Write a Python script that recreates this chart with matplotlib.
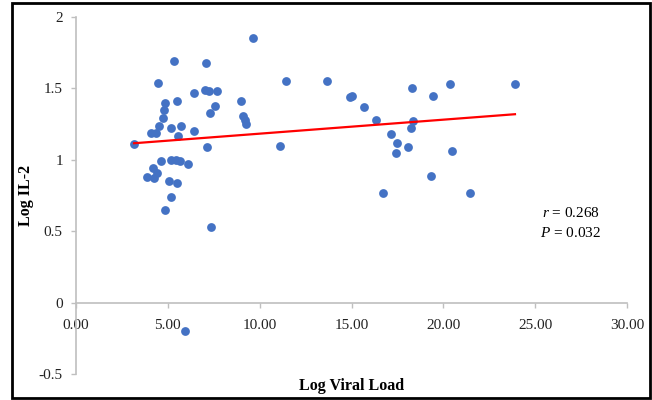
import numpy as np
import matplotlib
matplotlib.use("Agg")
import matplotlib.pyplot as plt
from matplotlib.patches import Rectangle

# Log viral load vs Log IL-2
viral_load = np.array([
    3.16, 9.64, 5.33, 7.07, 4.49, 11.44, 13.64, 6.45, 7.02, 7.26,
    7.66, 9.00, 4.82, 5.49, 4.78, 7.58, 7.31, 4.75, 9.07, 9.18,
    9.27, 4.53, 5.69, 5.18, 4.11, 4.38, 6.40, 5.56, 7.11, 11.13,
    4.64, 5.15, 5.46, 5.67, 6.11, 3.87, 4.18, 4.40, 4.26, 5.09,
    5.51, 5.18, 4.82, 7.36, 5.91, 14.90, 15.00, 15.69, 16.33, 18.29,
    19.42, 20.39, 23.90, 18.33, 18.26, 17.17, 17.48, 17.44, 18.09, 20.46,
    19.33, 16.69, 21.46,
])
il2 = np.array([
    1.11, 1.855, 1.69, 1.68, 1.54, 1.55, 1.55, 1.47, 1.49, 1.48,
    1.48, 1.41, 1.40, 1.41, 1.35, 1.375, 1.33, 1.29, 1.305, 1.28,
    1.25, 1.24, 1.24, 1.22, 1.19, 1.19, 1.20, 1.17, 1.09, 1.10,
    0.99, 1.00, 1.00, 0.99, 0.97, 0.88, 0.94, 0.91, 0.87, 0.85,
    0.84, 0.74, 0.65, 0.53, -0.20, 1.44, 1.45, 1.37, 1.28, 1.50,
    1.45, 1.53, 1.53, 1.27, 1.22, 1.18, 1.12, 1.05, 1.09, 1.06,
    0.89, 0.77, 0.77,
])

# trend line (slope, intercept)
fit_coef = [0.0098, 1.085]
stats_text = ["$r$ = 0.268", "$P$ = 0.032"]

xticks = [0, 5, 10, 15, 20, 25, 30]
yticks = [-0.5, 0, 0.5, 1, 1.5, 2]

plt.rcParams["font.family"] = ["Liberation Serif", "DejaVu Serif"]
plt.rcParams["mathtext.fontset"] = "custom"
plt.rcParams["mathtext.it"] = "Liberation Serif:italic"
plt.rcParams["mathtext.rm"] = "Liberation Serif"

fig = plt.figure(figsize=(6.52, 4.0), dpi=100)
ax = fig.add_axes([76 / 652, 1 - 374 / 400, 551 / 652, 357 / 400])

ax.scatter(viral_load, il2, s=40, color="#4472C4", zorder=3, linewidths=0)

xl = np.array([viral_load.min(), viral_load.max()])
ax.plot(xl, np.polyval(fit_coef, xl), color="#FF0000", lw=1.6, zorder=4)

ax.set_xlim(0, 30)
ax.set_ylim(-0.5, 2)
ax.set_xticks(xticks)
ax.set_xticklabels([f"{v:.2f}" for v in xticks])
ax.set_yticks(yticks)
ax.set_yticklabels([f"{v:g}" for v in yticks])

for side in ["top", "right"]:
    ax.spines[side].set_visible(False)
ax.spines["bottom"].set_position(("data", 0))
for side in ["left", "bottom"]:
    ax.spines[side].set_color("#BFBFBF")
    ax.spines[side].set_linewidth(1.2)
ax.tick_params(axis="both", colors="#BFBFBF", labelcolor="#222222",
               labelsize=11, length=3.5, width=1)
ax.tick_params(axis="x", pad=8)
ax.tick_params(axis="y", pad=6)

ax.set_xlabel("Log Viral Load", fontsize=11.5, fontweight="bold")
ax.xaxis.set_label_coords(0.5, -0.012)
ax.set_ylabel("Log IL-2", fontsize=11.5, fontweight="bold")
ax.yaxis.set_label_coords(-0.076, 0.5)

ax.text(26.95, 0.625, stats_text[0], fontsize=11, ha="center", va="center")
ax.text(26.95, 0.49, stats_text[1], fontsize=11, ha="center", va="center")

fig.patches.append(Rectangle((12 / 652, 2 / 400), 638 / 652, 395 / 400,
                             transform=fig.transFigure, fill=False,
                             edgecolor="black", linewidth=2))

fig.savefig("out.png", dpi=100)
